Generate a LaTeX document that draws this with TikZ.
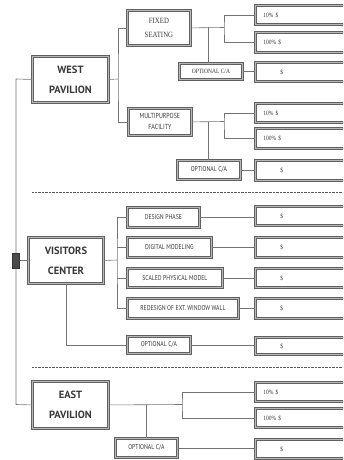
\documentclass[tikz,border=0pt]{standalone}
\usepackage{fontspec}
\setmainfont{PT Sans}
\newfontfamily\narrowf[FakeStretch=0.82]{PT Sans}
\newfontfamily\serifn[FakeStretch=0.85]{Liberation Serif}
\begin{document}
\begin{tikzpicture}[x=1pt,y=-1pt,
  box/.style={draw=black!62, double=black!28, double distance=0.9pt, line width=0.8pt,
    fill=white, inner sep=0pt, anchor=north west, text=black!78, align=center},
  bigbox/.style={box, line width=0.9pt, double distance=1.0pt,
    font=\bfseries\fontsize{10.5}{20}\selectfont},
  subbox/.style={box, font=\narrowf\fontsize{7}{10}\selectfont},
  serbox/.style={box, font=\serifn\fontsize{6.5}{13}\selectfont},
  dbox/.style={box, minimum width=95, align=left, text width=80pt, inner xsep=8pt,
    font=\serifn\fontsize{6.5}{7}\selectfont},
  conn/.style={draw=black!55, line width=0.6pt},
  dotline/.style={draw=black!65, line width=0.9pt, dash pattern=on 0.7pt off 0.7pt}]
\useasboundingbox (0,0) rectangle (343,460);
\clip (0,0) rectangle (343,460);

% ---------- WEST PAVILION ----------
\node[bigbox, minimum width=76, minimum height=46] (west) at (32,56) {WEST\\PAVILION};
\node[serbox, font=\serifn\fontsize{8}{14}\selectfont, minimum width=63, minimum height=35] (fs) at (127,10) {FIXED\\SEATING};
\node[subbox, font=\narrowf\fontsize{7.3}{11}\selectfont, minimum width=63, minimum height=27] (mp) at (128,108) {MULTIPURPOSE\\FACILITY};
\node[serbox, minimum width=63, minimum height=16] (fso) at (179,63) {OPTIONAL C/A};
\node[subbox, minimum width=63, minimum height=19] (mpo) at (177,160) {OPTIONAL C/A};

\node[dbox, minimum height=19] (fs10) at (255,5) {10\% \$};
\node[dbox, minimum height=20] (fs100) at (255,32) {100\% \$};
\node[dbox, minimum height=19] (fsod) at (255,62) {\hspace*{17pt}\$};
\node[dbox, minimum height=19] (mp10) at (255,103) {10\% \$};
\node[dbox, minimum height=20] (mp100) at (255,128) {100\% \$};
\node[dbox, minimum height=20] (mpod) at (255,160) {\hspace*{17pt}\$};

% ---------- VISITORS CENTER ----------
\node[bigbox, minimum width=75, minimum height=46] (vc) at (28,237) {VISITORS\\CENTER};
\node[subbox, minimum width=72, minimum height=20] (d1) at (127,207) {DESIGN PHASE};
\node[subbox, minimum width=84, minimum height=20] (d2) at (127,237) {DIGITAL MODELING};
\node[subbox, minimum width=95, minimum height=19] (d3) at (127,268) {SCALED PHYSICAL MODEL};
\node[subbox, minimum width=111, minimum height=20] (d4) at (127,298) {REDESIGN OF EXT. WINDOW WALL};
\node[subbox, minimum width=63, minimum height=17] (vco) at (127,336) {OPTIONAL C/A};

\node[dbox, minimum height=19] (dd1) at (255,206) {\hspace*{17pt}\$};
\node[dbox, minimum height=20] (dd2) at (255,237) {\hspace*{17pt}\$};
\node[dbox, minimum height=19] (dd3) at (255,268) {\hspace*{17pt}\$};
\node[dbox, minimum height=20] (dd4) at (255,298) {\hspace*{17pt}\$};
\node[dbox, minimum height=17] (vcod) at (255,337) {\hspace*{17pt}\$};

% ---------- EAST PAVILION ----------
\node[bigbox, minimum width=76, minimum height=47] (east) at (32,381) {EAST\\PAVILION};
\node[dbox, minimum height=19] (e10) at (255,382) {10\% \$};
\node[dbox, minimum height=19] (e100) at (255,408) {100\% \$};
\node[subbox, minimum width=62, minimum height=19] (eo) at (115,438) {OPTIONAL C/A};
\node[dbox, minimum height=19] (eod) at (255,439) {\hspace*{17pt}\$};

% ---------- main spine ----------
\coordinate (mtop) at (16,79);
\coordinate (mbot) at (16,404.5);
\draw[conn] (west.west) -- (mtop) -- (mbot) -- (east.west);
\node[draw=black!80, fill=black!70, minimum width=7, minimum height=15, inner sep=0pt] (mk) at (16,260.5) {};
\draw[conn] (mk.east) -- (vc.west);

% ---------- west connectors ----------
\coordinate (wb) at (118,79);
\draw[conn] (west.east) -- (wb);
\draw[conn] (fs.west) -| (wb) |- (mp.west);
\coordinate (fsb) at (224,27.5);
\draw[conn] (fs.east) -- (fsb);
\draw[conn] (fs10.west) -| (fsb) |- (fs100.west);
\coordinate (fsv) at (208,27.5);
\draw[conn] (fsv) -- (fsv |- fso.north);
\draw[conn] (fso.east) -- (fso.east -| fsod.west);
\coordinate (mpb) at (224,121.5);
\draw[conn] (mp.east) -- (mpb);
\draw[conn] (mp10.west) -| (mpb) |- (mp100.west);
\coordinate (mpv) at (208,121.5);
\draw[conn] (mpv) -- (mpv |- mpo.north);
\draw[conn] (mpo.east) -- (mpo.east -| mpod.west);

% ---------- visitors connectors ----------
\coordinate (vb) at (117,260);
\draw[conn] (vc.east) -- (vb);
\draw[conn] (d1.west) -| (vb) |- (d4.west);
\draw[conn] (d2.west) -- (d2.west -| vb);
\draw[conn] (d3.west) -- (d3.west -| vb);
\draw[conn] (d1.east) -- (d1.east -| dd1.west);
\draw[conn] (d2.east) -- (d2.east -| dd2.west);
\draw[conn] (d3.east) -- (d3.east -| dd3.west);
\draw[conn] (d4.east) -- (d4.east -| dd4.west);
\draw[conn] (vc.south) |- (vco.west);
\draw[conn] (vco.east) -- (vco.east -| vcod.west);

% ---------- east connectors ----------
\coordinate (eb) at (182,404.5);
\draw[conn] (east.east) -- (eb);
\draw[conn] (e10.west) -| (eb) |- (e100.west);
\draw[conn] (eo.north) -- (eo.north |- east.east);
\draw[conn] (eo.east) -- (eo.east -| eod.west);

% ---------- separators ----------
\coordinate (s1a) at (32,192); \coordinate (s1b) at (343,192);
\coordinate (s2a) at (32,367); \coordinate (s2b) at (343,367);
\draw[dotline] (s1a) -- (s1b);
\draw[dotline] (s2a) -- (s2b);
\end{tikzpicture}
\end{document}
